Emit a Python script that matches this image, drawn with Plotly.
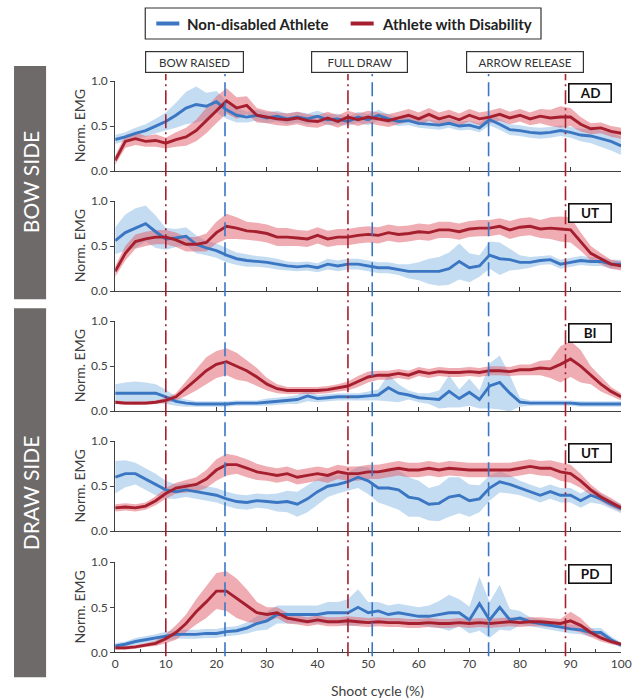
import plotly.graph_objects as go

# ---------------- data (shoot cycle %, step 2) ----------------
cycle = list(range(0, 101, 2))
muscles = ["AD", "UT", "BI", "UT", "PD"]
sides = ["BOW SIDE", "DRAW SIDE"]
phases = ["BOW RAISED", "FULL DRAW", "ARROW RELEASE"]
events_disabled = [10, 46, 89]      # red dash-dot markers
events_nondisabled = [21.7, 50.8, 73.8]  # blue dashed markers
series_names = ["Non-disabled Athlete", "Athlete with Disability"]
x_ticks = [0, 10, 20, 30, 40, 50, 60, 70, 80, 90, 100]
y_ticks = [0.0, 0.5, 1.0]

# bow side AD
ad_nd = [.35,.38,.42,.45,.50,.55,.62,.70,.74,.72,
         .77,.68,.62,.60,.62,.59,.61,.58,.60,.58,
         .61,.57,.58,.55,.60,.57,.62,.58,.55,.56,
         .53,.52,.51,.53,.50,.51,.48,.57,.52,.46,
         .45,.43,.42,.43,.45,.43,.40,.39,.36,.33,
         .28]
ad_d = [.12,.33,.36,.33,.34,.31,.35,.38,.45,.56,
        .68,.78,.70,.73,.62,.60,.58,.57,.59,.56,
        .55,.59,.55,.60,.57,.60,.58,.56,.59,.62,
        .58,.63,.58,.61,.57,.62,.58,.60,.63,.59,
        .62,.58,.61,.59,.60,.60,.52,.47,.48,.44,
        .42]
ad_nd_sd = [.05,.05,.06,.07,.08,.10,.14,.18,.20,.15,
            .12,.10,.08,.06,.06,.06,.06,.06,.06,.06,
            .06,.06,.06,.05,.06,.06,.06,.05,.05,.05,
            .05,.05,.05,.05,.05,.05,.05,.06,.06,.06,
            .06,.06,.06,.06,.06,.06,.07,.08,.09,.10,
            .10]
ad_d_sd = [.05,.07,.07,.06,.07,.06,.08,.10,.12,.14,
           .15,.14,.12,.10,.08,.07,.07,.07,.07,.07,
           .07,.07,.07,.07,.07,.07,.07,.07,.07,.07,
           .07,.07,.07,.07,.07,.07,.07,.07,.07,.07,
           .07,.07,.08,.09,.12,.10,.08,.06,.06,.06,
           .06]

# bow side UT
utb_nd = [.56,.65,.70,.75,.66,.58,.59,.61,.52,.48,
          .45,.40,.36,.34,.33,.32,.30,.28,.27,.28,
          .26,.30,.28,.30,.30,.28,.26,.26,.24,.22,
          .22,.22,.22,.25,.33,.26,.28,.40,.36,.35,
          .32,.32,.34,.35,.30,.32,.34,.33,.33,.30,
          .30]
utb_d = [.22,.42,.55,.58,.60,.60,.57,.52,.52,.54,
         .65,.72,.70,.67,.66,.64,.60,.60,.59,.58,
         .62,.58,.60,.60,.62,.63,.62,.65,.63,.64,
         .66,.65,.68,.68,.66,.69,.70,.70,.72,.68,
         .71,.72,.69,.70,.69,.68,.55,.42,.36,.30,
         .28]
utb_nd_sd = [.15,.20,.22,.20,.18,.12,.10,.10,.10,.08,
             .08,.08,.07,.07,.06,.06,.06,.05,.05,.05,
             .05,.06,.06,.06,.06,.06,.06,.06,.06,.08,
             .10,.14,.16,.18,.20,.16,.12,.15,.18,.12,
             .08,.06,.05,.05,.05,.05,.05,.05,.05,.05,
             .05]
utb_d_sd = [.06,.08,.08,.08,.08,.08,.08,.08,.08,.10,
            .12,.14,.12,.10,.10,.10,.10,.10,.09,.09,
            .09,.09,.09,.09,.09,.09,.09,.09,.09,.09,
            .09,.09,.09,.09,.09,.09,.09,.09,.09,.10,
            .10,.10,.10,.12,.14,.14,.10,.08,.06,.05,
            .05]

# draw side BI
bi_nd = [.20,.20,.20,.20,.20,.16,.11,.09,.08,.08,
         .08,.08,.09,.09,.09,.10,.11,.12,.13,.17,
         .14,.15,.16,.16,.16,.17,.18,.26,.20,.18,
         .15,.14,.13,.22,.14,.21,.13,.28,.32,.20,
         .10,.09,.09,.09,.09,.09,.08,.08,.08,.08,
         .08]
bi_d = [.10,.09,.09,.09,.10,.12,.16,.25,.35,.45,
        .52,.55,.50,.45,.38,.30,.25,.23,.23,.23,
        .23,.24,.26,.28,.33,.38,.40,.40,.42,.40,
        .44,.42,.44,.43,.43,.44,.43,.45,.45,.44,
        .46,.46,.48,.47,.52,.58,.50,.40,.30,.22,
        .16]
bi_nd_sd = [.10,.12,.13,.12,.10,.08,.05,.04,.03,.03,
            .03,.03,.03,.03,.03,.04,.04,.04,.05,.06,
            .04,.04,.04,.04,.04,.05,.06,.15,.10,.05,
            .05,.06,.10,.18,.10,.15,.10,.25,.30,.20,
            .05,.03,.03,.03,.03,.03,.03,.03,.03,.03,
            .03]
bi_d_sd = [.02,.02,.02,.02,.02,.03,.04,.08,.12,.15,
           .15,.15,.15,.12,.10,.07,.05,.04,.04,.04,
           .04,.04,.04,.05,.06,.06,.05,.05,.05,.05,
           .05,.05,.05,.05,.05,.05,.05,.05,.05,.05,
           .06,.06,.08,.10,.20,.20,.18,.10,.08,.05,
           .04]

# draw side UT
utd_nd = [.60,.64,.64,.58,.52,.46,.44,.46,.44,.42,
          .40,.36,.33,.32,.34,.33,.32,.33,.30,.36,
          .44,.50,.52,.55,.60,.56,.48,.48,.46,.38,
          .36,.30,.31,.38,.40,.34,.36,.48,.55,.52,
          .48,.44,.40,.44,.40,.40,.34,.40,.36,.30,
          .25]
utd_d = [.26,.27,.26,.28,.34,.42,.48,.50,.52,.58,
         .68,.74,.74,.70,.66,.64,.62,.64,.60,.62,
         .64,.62,.66,.64,.64,.66,.66,.68,.70,.68,
         .68,.70,.68,.70,.69,.68,.68,.68,.68,.68,
         .70,.72,.70,.70,.66,.64,.56,.46,.38,.32,
         .26]
utd_nd_sd = [.18,.15,.12,.12,.12,.10,.08,.08,.08,.08,
             .08,.08,.08,.08,.08,.08,.10,.12,.14,.15,
             .14,.12,.10,.10,.12,.15,.16,.20,.22,.22,
             .20,.18,.20,.22,.20,.18,.15,.14,.12,.10,
             .08,.08,.08,.08,.08,.08,.08,.08,.06,.05,
             .05]
utd_d_sd = [.04,.04,.04,.04,.05,.06,.06,.07,.08,.10,
            .12,.12,.10,.10,.09,.08,.08,.08,.08,.08,
            .08,.08,.08,.08,.08,.08,.08,.08,.08,.08,
            .08,.08,.08,.08,.08,.08,.08,.08,.08,.08,
            .08,.08,.08,.09,.10,.10,.08,.06,.05,.05,
            .04]

# draw side PD
pd_nd = [.07,.09,.12,.14,.16,.18,.20,.20,.20,.21,
         .21,.23,.24,.27,.32,.35,.42,.42,.42,.42,
         .42,.44,.44,.44,.50,.44,.46,.42,.44,.42,
         .40,.40,.42,.44,.44,.36,.54,.36,.50,.36,
         .38,.34,.32,.30,.28,.26,.25,.22,.22,.14,
         .08]
pd_d = [.05,.05,.06,.08,.10,.15,.22,.32,.45,.56,
        .68,.68,.60,.52,.44,.42,.44,.38,.36,.34,
        .36,.34,.34,.35,.34,.33,.34,.33,.33,.32,
        .32,.33,.32,.32,.33,.32,.33,.32,.33,.34,
        .33,.34,.34,.33,.32,.35,.30,.22,.16,.12,
        .09]
pd_nd_sd = [.03,.03,.04,.04,.04,.05,.05,.05,.05,.05,
            .05,.05,.05,.06,.08,.10,.10,.10,.10,.10,
            .10,.12,.12,.15,.20,.12,.10,.10,.10,.10,
            .10,.12,.15,.20,.15,.15,.30,.20,.25,.12,
            .08,.05,.05,.05,.05,.05,.05,.05,.05,.04,
            .03]
pd_d_sd = [.02,.02,.02,.02,.03,.05,.08,.10,.14,.18,
           .20,.22,.22,.18,.12,.08,.06,.06,.05,.05,
           .05,.05,.05,.05,.05,.05,.05,.05,.05,.05,
           .05,.05,.05,.05,.05,.05,.05,.05,.05,.05,
           .05,.05,.05,.05,.05,.10,.08,.05,.04,.03,
           .02]

panels = [
    (ad_nd, ad_nd_sd, ad_d, ad_d_sd),
    (utb_nd, utb_nd_sd, utb_d, utb_d_sd),
    (bi_nd, bi_nd_sd, bi_d, bi_d_sd),
    (utd_nd, utd_nd_sd, utd_d, utd_d_sd),
    (pd_nd, pd_nd_sd, pd_d, pd_d_sd),
]

# ---------------- style ----------------
W, H = 644, 698
FONT = "Lato"
BLUE = "#3b76c2"
RED = "#a51f2f"
BLUE_BAND = "rgba(125,178,226,0.45)"
RED_BAND = "rgba(224,92,104,0.50)"
AXIS_C = "#404040"
TXT_C = "#404040"

# layout target positions are given in reference pixels; a small empirical
# correction maps them to figure pixels
SC = 0.978
OX, OY = 2.0, 7.0


def px(xp):
    return ((xp - OX) / SC) / W


def py(yp):
    return 1 - ((yp - OY) / SC) / H


X_L, X_R = 114, 619
tops = [80, 200, 320, 440, 561]
PH = 90

fig = go.Figure()
layout_axes = {}

for i, (nd, nd_sd, d, d_sd) in enumerate(panels):
    sfx = "" if i == 0 else str(i + 1)
    xa, ya = "x" + sfx, "y" + sfx
    for mean, sd, band in ((nd, nd_sd, BLUE_BAND), (d, d_sd, RED_BAND)):
        upper = [m + s for m, s in zip(mean, sd)]
        lower = [m - s for m, s in zip(mean, sd)]
        fig.add_trace(go.Scatter(
            x=cycle + cycle[::-1], y=upper + lower[::-1],
            fill="toself", fillcolor=band, line=dict(width=0),
            mode="lines", hoverinfo="skip", showlegend=False,
            xaxis=xa, yaxis=ya))
    for mean, col, name in ((nd, BLUE, series_names[0]), (d, RED, series_names[1])):
        fig.add_trace(go.Scatter(
            x=cycle, y=mean, mode="lines", name=name,
            line=dict(color=col, width=2.9),
            showlegend=False, xaxis=xa, yaxis=ya))

    bottom = (i == 4)
    layout_axes["xaxis" + sfx] = dict(
        domain=[px(X_L), px(X_R)], range=[0, 100], anchor=ya,
        showline=True, linecolor=AXIS_C, linewidth=1.2,
        ticks="inside", ticklen=4, tickcolor=AXIS_C,
        tickvals=x_ticks, showticklabels=bottom,
        tickfont=dict(family=FONT, size=12, color=TXT_C),
        showgrid=False, zeroline=False,
        minor=dict(ticks="inside", ticklen=3, dtick=5, tickcolor=AXIS_C) if bottom else None,
    )
    layout_axes["yaxis" + sfx] = dict(
        domain=[py(tops[i] + PH), py(tops[i])], range=[0, 1], anchor=xa,
        showline=True, linecolor=AXIS_C, linewidth=1.2,
        ticks="outside", ticklen=4, tickcolor=AXIS_C,
        tickvals=y_ticks, tickformat=".1f",
        tickfont=dict(family=FONT, size=12, color=TXT_C),
        showgrid=False, zeroline=False,
    )

fig.update_layout(**layout_axes)

shapes = []
annotations = []

# event lines spanning all panels
for ev in events_disabled:
    shapes.append(dict(type="line", xref="x", yref="paper", x0=ev, x1=ev,
                       y0=py(655), y1=py(73), layer="above",
                       line=dict(color=RED, width=1.6, dash="14px,4px,2px,4px")))
for ev in events_nondisabled:
    shapes.append(dict(type="line", xref="x", yref="paper", x0=ev, x1=ev,
                       y0=py(655), y1=py(73), layer="above",
                       line=dict(color="#3a76c4", width=1.6, dash="14px,6px")))

# side labels
side_boxes = [(65, 298), (307, 676)]
for label, (y0, y1) in zip(sides, side_boxes):
    shapes.append(dict(type="rect", xref="paper", yref="paper",
                       x0=px(13), x1=px(45), y0=py(y1), y1=py(y0),
                       fillcolor="#6e6a6a", line=dict(width=0)))
    annotations.append(dict(text=label, xref="paper", yref="paper",
                            x=px(29.5), y=py((y0 + y1) / 2), showarrow=False,
                            xanchor="center", yanchor="middle",
                            textangle=-90, font=dict(family=FONT, size=21, color="white")))

# legend box (drawn)
shapes.append(dict(type="rect", xref="paper", yref="paper",
                   x0=px(144), x1=px(539), y0=py(38), y1=py(7),
                   fillcolor="white", line=dict(color="#333333", width=1.2)))
legend_items = [(155, 178, 184, BLUE), (349, 372, 378, RED)]
for name, (lx0, lx1, tx, col) in zip(series_names, legend_items):
    shapes.append(dict(type="line", xref="paper", yref="paper",
                       x0=px(lx0), x1=px(lx1), y0=py(22.5), y1=py(22.5),
                       line=dict(color=col, width=4)))
    annotations.append(dict(text="<b>%s</b>" % name, xref="paper", yref="paper",
                            x=px(tx), y=py(22.5), showarrow=False,
                            xanchor="left", yanchor="middle",
                            font=dict(family=FONT, size=15, color="#222222")))

# phase boxes
phase_boxes = [(144, 243), (309, 406), (464, 582)]
for label, (x0, x1) in zip(phases, phase_boxes):
    annotations.append(dict(text=label, xref="paper", yref="paper",
                            x=px((x0 + x1) / 2), y=py(60.5), showarrow=False,
                            xanchor="center", yanchor="middle",
                            width=x1 - x0 - 6, height=16, borderpad=2,
                            bordercolor="#333333", borderwidth=1.2, bgcolor="white",
                            font=dict(family=FONT, size=11.5, color="#333333")))

# muscle label boxes & y titles
for i, m in enumerate(muscles):
    sfx = "" if i == 0 else str(i + 1)
    annotations.append(dict(text="<b>%s</b>" % m, xref="x" + sfx, yref="y" + sfx,
                            x=93.8, y=0.87, showarrow=False,
                            xanchor="center", yanchor="middle",
                            width=37, height=13, borderpad=2,
                            bordercolor="#111111", borderwidth=1.6, bgcolor="white",
                            font=dict(family=FONT, size=13.5, color="#111111")))
    annotations.append(dict(text="Norm. EMG", xref="paper", yref="paper",
                            x=px(78), y=py(tops[i] + PH / 2), showarrow=False,
                            xanchor="center", yanchor="middle",
                            textangle=-90, font=dict(family=FONT, size=14, color=TXT_C)))

annotations.append(dict(text="Shoot cycle (%)", xref="paper", yref="paper",
                        x=px(376), y=py(689), showarrow=False,
                        xanchor="center", yanchor="middle",
                        font=dict(family=FONT, size=14, color=TXT_C)))

fig.update_layout(
    width=W, height=H,
    margin=dict(l=0, r=0, t=0, b=0),
    paper_bgcolor="white", plot_bgcolor="white",
    shapes=shapes, annotations=annotations,
    showlegend=False,
    font=dict(family=FONT),
)

POST = (
    "document.documentElement.style.margin='0';"
    "document.documentElement.style.overflow='hidden';"
    "document.body.style.margin='0';"
    "document.body.style.overflow='hidden';"
    "var g=document.getElementById('{plot_id}');"
    "g.style.position='fixed';g.style.left='0px';g.style.top='0px';"
)

fig.write_html("out.html", config={"displayModeBar": False}, post_script=POST)
